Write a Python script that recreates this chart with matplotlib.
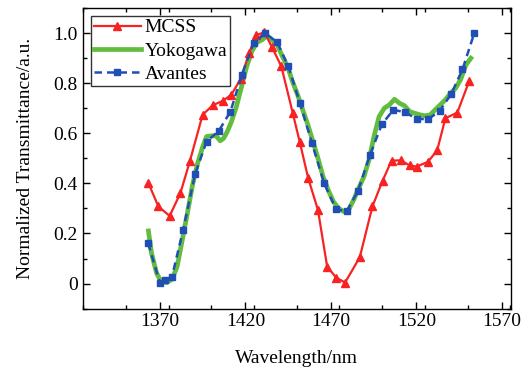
import matplotlib
matplotlib.use("Agg")
import matplotlib.pyplot as plt
from matplotlib.ticker import MultipleLocator, FuncFormatter

# ---- data ----
mcss_x = [1363.2, 1369.0, 1375.6, 1381.9, 1387.5, 1394.9, 1400.8, 1406.8, 1411.7, 1417.1,
          1422.1, 1426.1, 1431.0, 1435.6, 1441.0, 1447.7, 1451.7, 1456.7, 1462.4, 1467.8,
          1473.0, 1478.3, 1486.9, 1494.3, 1500.2, 1505.5, 1510.9, 1516.0, 1520.1, 1526.8,
          1532.2, 1537.0, 1544.0, 1551.0]
mcss_y = [0.401, 0.308, 0.270, 0.361, 0.490, 0.674, 0.712, 0.730, 0.754, 0.816,
          0.920, 0.991, 1.004, 0.943, 0.867, 0.680, 0.567, 0.421, 0.294, 0.068,
          0.024, 0.004, 0.105, 0.308, 0.410, 0.491, 0.492, 0.472, 0.467, 0.486,
          0.532, 0.660, 0.683, 0.810]

yoko_x = [1363.2, 1365.0, 1368.0, 1370.6, 1374.0, 1377.0, 1380.0, 1383.0, 1386.0, 1389.0,
          1392.0, 1395.0, 1397.2, 1399.8, 1402.8, 1405.2, 1407.2, 1409.2, 1411.7, 1414.7,
          1417.7, 1420.7, 1423.7, 1426.7, 1429.6, 1432.6, 1435.6, 1438.6, 1441.6, 1444.6,
          1447.5, 1450.5, 1453.5, 1456.5, 1459.5, 1462.4, 1465.4, 1468.4, 1471.4, 1474.4,
          1477.4, 1480.3, 1483.3, 1486.3, 1489.3, 1492.3, 1495.2, 1498.2, 1501.2, 1504.2,
          1507.2, 1510.2, 1513.1, 1516.1, 1519.1, 1522.1, 1525.1, 1528.1, 1531.0, 1534.0,
          1537.0, 1540.0, 1543.0, 1546.0, 1549.0, 1551.9]
yoko_y = [0.210, 0.121, 0.041, 0.008, 0.004, 0.017, 0.068, 0.174, 0.281, 0.394,
          0.481, 0.547, 0.587, 0.590, 0.590, 0.570, 0.580, 0.605, 0.645, 0.707,
          0.787, 0.867, 0.927, 0.963, 0.973, 0.989, 0.973, 0.953, 0.907, 0.867,
          0.807, 0.754, 0.694, 0.634, 0.567, 0.501, 0.427, 0.374, 0.328, 0.301,
          0.288, 0.294, 0.334, 0.381, 0.427, 0.494, 0.587, 0.667, 0.700, 0.714,
          0.736, 0.720, 0.710, 0.687, 0.680, 0.674, 0.670, 0.674, 0.694, 0.714,
          0.734, 0.760, 0.780, 0.816, 0.873, 0.900]

avan_x = [1363.0, 1370.0, 1373.0, 1377.0, 1383.5, 1390.5, 1397.2, 1404.4, 1411.2, 1417.9,
          1424.7, 1431.6, 1438.6, 1445.1, 1451.9, 1458.9, 1466.0, 1473.0, 1479.3, 1485.9,
          1492.9, 1499.8, 1506.6, 1513.5, 1520.2, 1527.1, 1533.7, 1540.4, 1547.0, 1553.9]
avan_y = [0.161, 0.001, 0.015, 0.028, 0.214, 0.437, 0.567, 0.610, 0.687, 0.834,
          0.960, 1.000, 0.963, 0.867, 0.720, 0.561, 0.401, 0.297, 0.288, 0.371,
          0.514, 0.636, 0.694, 0.684, 0.657, 0.657, 0.690, 0.757, 0.855, 1.000]

x_ticks = [1370, 1420, 1470, 1520, 1570]
y_ticks = [0, 0.2, 0.4, 0.6, 0.8, 1.0]

plt.rcParams['font.family'] = ['Liberation Serif', 'DejaVu Serif']

fig = plt.figure(figsize=(5.31, 3.70), dpi=100)
ax = fig.add_axes([0.156, 0.166, 0.806, 0.812])

red = '#f82222'
green = '#62bd3e'
blue = '#1f4fb4'

ax.plot(mcss_x, mcss_y, color=red, lw=1.6, marker='^', ms=6, label='MCSS', zorder=3)
ax.plot(yoko_x, yoko_y, color=green, lw=3.4, label='Yokogawa', zorder=2)
ax.plot(avan_x, avan_y, color=blue, lw=1.8, ls=(0, (3, 2)), marker='s', ms=4.5,
        label='Avantes', zorder=4)

ax.set_xlim(1324.8, 1575.3)
ax.set_ylim(-0.1, 1.1)
ax.set_xticks(x_ticks)
ax.set_yticks(y_ticks)
ax.xaxis.set_minor_locator(MultipleLocator(25))
ax.yaxis.set_minor_locator(MultipleLocator(0.1))
ax.yaxis.set_major_formatter(FuncFormatter(lambda v, p: '0' if abs(v) < 1e-9 else f'{v:.1f}'))

ax.tick_params(which='both', direction='in', top=True, right=True, labelsize=14, width=1.0)
ax.tick_params(which='major', length=5)
ax.tick_params(which='minor', length=3)
for s in ax.spines.values():
    s.set_linewidth(1.0)

ax.set_xlabel('Wavelength/nm', fontsize=14, labelpad=14)
ax.set_ylabel('Normalized Transmittance/a.u.', fontsize=14, labelpad=14)

leg = ax.legend(loc='upper left', bbox_to_anchor=(0.019, 0.974), borderaxespad=0,
                fontsize=14, frameon=True, fancybox=False, handlelength=2.4,
                labelspacing=0.28, borderpad=0.15, handletextpad=0.2)
leg.get_frame().set_edgecolor('black')
leg.get_frame().set_linewidth(1.0)

fig.savefig('out.png', dpi=100)
